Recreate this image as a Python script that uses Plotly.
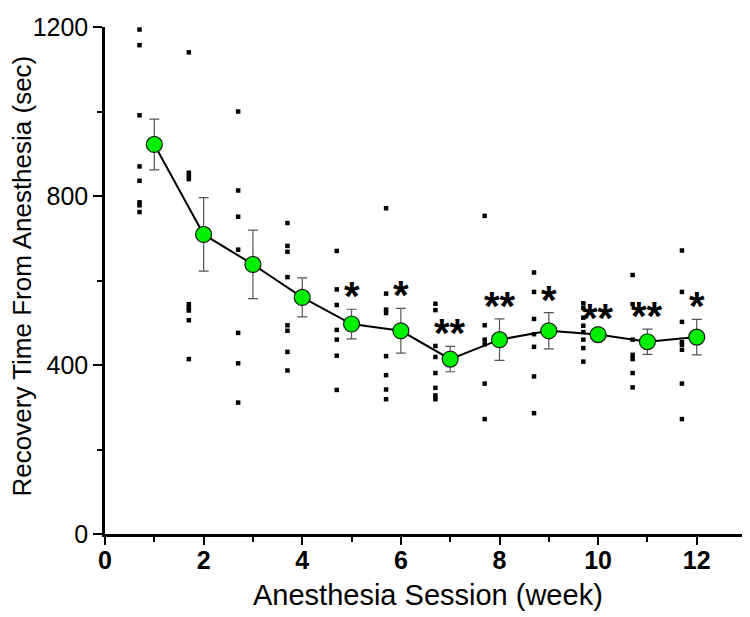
import plotly.graph_objects as go

weeks = list(range(1, 13))

# individual animals (sec), per week
dots = [
    [1194, 1157, 991, 870, 836, 785, 778, 762],
    [1140, 855, 847, 840, 544, 536, 529, 506, 414],
    [1000, 813, 751, 673, 476, 404, 311],
    [736, 682, 668, 608, 494, 481, 431, 387],
    [670, 579, 542, 483, 460, 422, 341],
    [771, 569, 531, 523, 421, 376, 342, 319],
    [545, 530, 445, 419, 381, 346, 328, 319],
    [753, 494, 460, 449, 356, 272],
    [619, 573, 509, 473, 443, 373, 286],
    [546, 535, 512, 493, 478, 460, 440, 408],
    [613, 544, 460, 424, 414, 381, 347],
    [671, 573, 502, 454, 448, 436, 356, 272],
]

means = [922, 709, 638, 560, 497, 481, 414, 460, 481, 472, 455, 466]
sems = [60, 87, 81, 46, 35, 53, 30, 49, 43, 8, 30, 42]
stars = ["", "", "", "", "*", "*", "**", "**", "*", "**", "**", "*"]

dot_offset = 0.3

dx, dy = [], []
for w, vals in zip(weeks, dots):
    for v in vals:
        dx.append(w - dot_offset)
        dy.append(v)

fig = go.Figure()

fig.add_trace(go.Scatter(
    x=dx, y=dy, mode="markers",
    marker=dict(symbol="square", size=4.5, color="black"),
    showlegend=False, cliponaxis=False,
))

fig.add_trace(go.Scatter(
    x=weeks, y=means, mode="lines+markers",
    line=dict(color="black", width=2),
    marker=dict(symbol="circle", size=16, color="#00f000",
                line=dict(color="#1a1a1a", width=1.2)),
    error_y=dict(type="data", array=sems, visible=True,
                 color="#555555", thickness=1.2, width=5),
    showlegend=False, cliponaxis=False,
))

for w, m, s, st in zip(weeks, means, sems, stars):
    if st:
        fig.add_annotation(
            x=w, y=m + s, text=st, showarrow=False,
            yanchor="bottom", yshift=-11,
            font=dict(family="Liberation Sans, Arial", size=40, color="black",
                      weight="bold"),
        )

fig.add_annotation(
    xref="paper", yref="paper", x=-0.1287, y=0.51,
    text="Recovery Time From Anesthesia (sec)", showarrow=False,
    textangle=-90, xanchor="center", yanchor="middle",
    font=dict(family="Liberation Sans, Arial", size=26, color="black"),
)
fig.add_annotation(
    xref="paper", yref="paper", x=0.5, y=-0.121,
    text="Anesthesia Session (week)", showarrow=False,
    xanchor="center", yanchor="middle",
    font=dict(family="Liberation Sans, Arial", size=29, color="black"),
)

fig.update_layout(
    width=750, height=617,
    margin=dict(l=97, r=8, t=5, b=91),
    plot_bgcolor="white", paper_bgcolor="white",
    xaxis=dict(
        range=[0, 13.08], showgrid=False, zeroline=False,
        showline=True, linecolor="black", linewidth=2.5,
        ticks="outside", ticklen=8, tickwidth=2, tickcolor="black",
        tickvals=[0, 2, 4, 6, 8, 10, 12],
        tickfont=dict(family="Liberation Sans, Arial",
                      size=25, color="black", weight="bold"),
        ticklabelstandoff=-6, ticklabeloverflow="allow",
        minor=dict(ticks="outside", ticklen=5, tickwidth=2, tickcolor="black",
                   dtick=1, tick0=0),
    ),
    yaxis=dict(
        range=[0, 1200], showgrid=False, zeroline=False,
        showline=True, linecolor="black", linewidth=2.5,
        ticks="outside", ticklen=9, tickwidth=2, tickcolor="black",
        tickvals=[0, 400, 800, 1200],
        tickfont=dict(family="Liberation Sans, Arial", size=25, color="black"),
        ticklabeloverflow="allow",
        minor=dict(ticks="outside", ticklen=5, tickwidth=2, tickcolor="black",
                   dtick=200, tick0=0),
    ),
)

fig.write_html("out.html")
